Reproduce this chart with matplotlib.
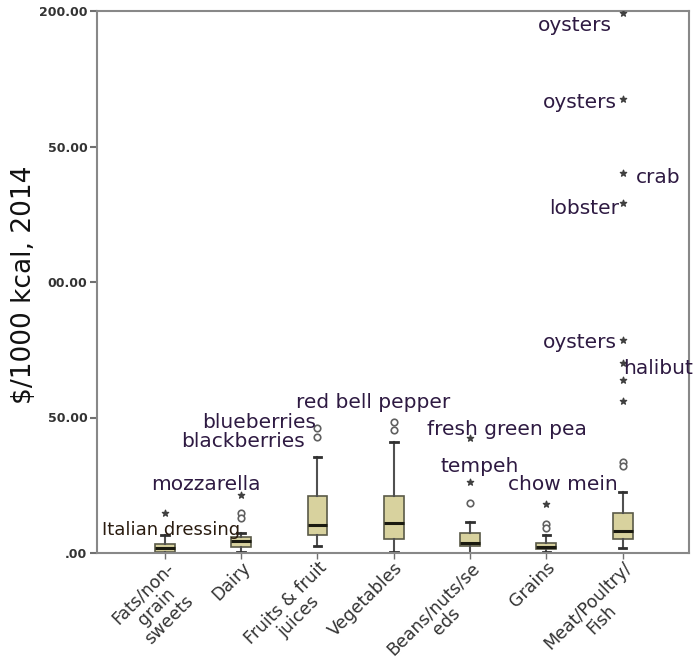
import numpy as np
import matplotlib.pyplot as plt
import matplotlib.transforms as mtransforms

categories = ["Fats/non-\ngrain\nsweets", "Dairy", "Fruits & fruit\njuices", "Vegetables",
              "Beans/nuts/se\neds", "Grains", "Meat/Poultry/\nFish"]

# box stats per category (whisker low, q1, median, q3, whisker high)
whislo = [0.0, 0.5, 2.6, 0.4, 0.0, 0.5, 1.7]
q1 = [0.4, 2.2, 6.6, 5.2, 2.6, 1.4, 5.1]
med = [1.8, 4.4, 10.3, 11.1, 3.8, 2.3, 8.2]
q3 = [3.3, 5.9, 21.0, 21.0, 7.5, 3.8, 14.6]
whishi = [6.6, 7.4, 35.4, 41.0, 11.6, 6.5, 22.6]

# outliers: circles (mild) and stars (extreme)
circles = [[], [14.8, 12.9], [46.1, 42.8], [48.3, 45.4], [18.6], [10.7, 9.1], [33.7, 32.2]]
stars = [[14.8], [21.4], [], [], [26.1, 42.4], [18.0],
         [199.1, 167.4, 140.1, 129.0, 78.6, 70.0, 63.8, 56.2]]

# labelled points: text, x, y
labels = ["Italian dressing", "mozzarella", "blueberries", "blackberries", "red bell pepper",
          "fresh green pea", "tempeh", "chow mein", "oysters", "oysters", "crab", "lobster",
          "oysters", "halibut"]
label_x = [1.08, 1.54, 2.23, 2.02, 3.73, 5.48, 5.12, 6.22, 6.37, 6.44, 7.46, 6.50, 6.44, 7.46]
label_y = [8.5, 25.1, 48.0, 41.3, 55.4, 45.4, 32.1, 25.1, 194.8, 166.4, 138.7, 127.3, 77.5, 67.9]

ytick_vals = [0, 50, 100, 150, 200]
ytick_text = [".00", "50.00", "00.00", "50.00", "200.00"]

fig = plt.figure(figsize=(6.94, 6.64), dpi=100)
ax = fig.add_axes([97 / 694, 1 - 553 / 664, 592 / 694, 542 / 664])

pos = np.arange(1, len(categories) + 1)
stats = []
for i in range(len(categories)):
    stats.append(dict(whislo=whislo[i], q1=q1[i], med=med[i], q3=q3[i], whishi=whishi[i], fliers=[]))

ax.bxp(stats, positions=pos, widths=0.26, capwidths=0.1, patch_artist=True, showfliers=False,
       boxprops=dict(facecolor="#d8d29e", edgecolor="#5a5a48", linewidth=1.2),
       medianprops=dict(color="#1a1a10", linewidth=2.2),
       whiskerprops=dict(color="#505050", linewidth=1.5),
       capprops=dict(color="#303030", linewidth=2))

for i in range(len(categories)):
    if circles[i]:
        ax.scatter([pos[i]] * len(circles[i]), circles[i], s=22, facecolors="white",
                   edgecolors="#606060", linewidths=1.2, zorder=3)
    if stars[i]:
        ax.scatter([pos[i]] * len(stars[i]), stars[i], s=22, marker="*", color="#404040",
                   zorder=3)

for t, x, y in zip(labels, label_x, label_y):
    fs = 13 if t == "Italian dressing" else 14.5
    col = "#2a1c10" if t == "Italian dressing" else "#2e1a42"
    ax.text(x, y, t, ha="center", va="center", fontsize=fs, color=col, clip_on=False, zorder=4)

ax.set_xlim(0.11, 7.87)
ax.set_ylim(0, 200)
ax.set_yticks(ytick_vals)
ax.set_yticklabels(ytick_text, fontsize=9, color="#333333", fontweight="bold")
ax.set_xticks(pos)
ax.set_xticklabels(categories, rotation=45, ha="right", rotation_mode="anchor",
                   multialignment="center", fontsize=12.5, color="#333333",
                   linespacing=1.05)
shift = mtransforms.ScaledTranslation(6 / 100, 0, fig.dpi_scale_trans)
for lab in ax.get_xticklabels():
    lab.set_transform(lab.get_transform() + shift)
ax.tick_params(axis="y", length=5, width=1.5, color="#707070", pad=2)
ax.tick_params(axis="x", length=4, width=1, color="#707070", pad=0)
for s in ax.spines.values():
    s.set_color("#888888")
    s.set_linewidth(1.5)

fig.text(24 / 694, 1 - 285 / 664, "$/1000 kcal, 2014", rotation=90, ha="center", va="center",
         fontsize=19, color="#111111")

fig.savefig("out.png", dpi=100)
